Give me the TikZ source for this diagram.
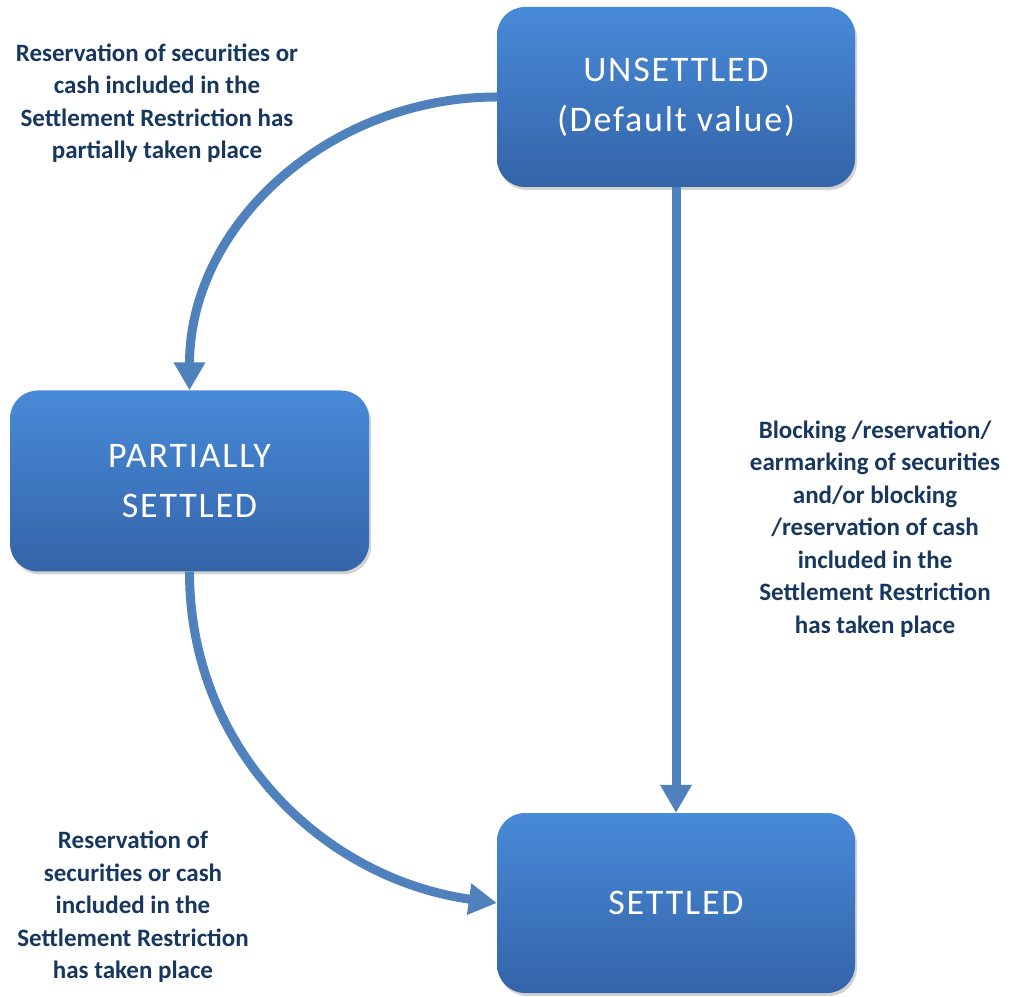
\documentclass[tikz,border=0pt]{standalone}
\usepackage{fontspec}
\setmainfont{Carlito}
\newfontfamily\boxfont[LetterSpace=5]{Carlito}
\usetikzlibrary{arrows.meta,shadows}
\definecolor{arrowblue}{RGB}{79,129,189}
\definecolor{boxtop}{RGB}{72,138,216}
\definecolor{boxbot}{RGB}{52,100,168}
\definecolor{labelnavy}{RGB}{23,55,94}
\tikzset{
  statebox/.style={rounded corners=28pt, minimum width=358pt, minimum height=180pt,
    top color=boxtop, bottom color=boxbot, draw=none, text=white, align=center,
    font=\boxfont\fontsize{36}{50}\selectfont,
    drop shadow={opacity=0.35, shadow xshift=2pt, shadow yshift=-3pt}},
  translabel/.style={text=labelnavy, align=center, font=\bfseries\fontsize{25}{32.5}\selectfont, inner sep=0pt},
  flow/.style={draw=arrowblue, line width=9pt, -{Triangle[width=30pt,length=28pt]}}
}
\begin{document}
\begin{tikzpicture}[x=1pt,y=1pt]
\useasboundingbox (0,0) rectangle (1011,996);
\node[statebox] (uns) at (676,899) {UNSETTLED\\(Default value)};
\node[statebox, minimum width=359pt, minimum height=181pt] (part) at (189.5,515) {PARTIALLY\\SETTLED};
\node[statebox] (set) at (676,93) {SETTLED};
\draw[flow] (uns.west) to[out=180,in=90] (part.north);
\draw[flow] (uns.south) -- (set.north);
\draw[flow] (part.south) to[out=-90,in=172] (set.west);
\node[translabel] (l1) at (157,893) {Reservation of securities or\\cash included in the\\Settlement Restriction has\\partially taken place};
\node[translabel] (l2) at (875,467) {Blocking /reservation/\\earmarking of securities\\and/or blocking\\/reservation of cash\\included in the\\Settlement Restriction\\has taken place};
\node[translabel] (l3) at (133,89) {Reservation of\\securities or cash\\included in the\\Settlement Restriction\\has taken place};
\end{tikzpicture}
\end{document}
